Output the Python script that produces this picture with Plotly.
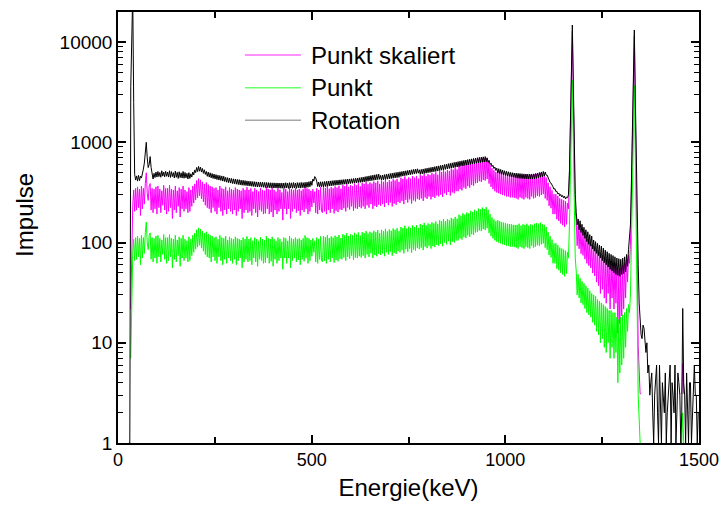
import numpy as np
import plotly.graph_objects as go

# Gamma spectrum (Co-60): channel grid starts at 28 keV, 2.5 keV per channel,
# rows below hold 20 channels (50 keV) each; starting energy in the comment.
E0 = 28
DE = 2.5

rotation = [
    1, 1, 3600, 30000, 30000, 2500, 480, 420, 462, 410, 468, 415, 460, 440, 480, 540, 620, 850, 1000, 700,          # 28
    560, 600, 720, 560, 470, 430, 490, 445, 505, 450, 512, 455, 500, 448, 520, 460, 505, 452, 515, 458,             # 78
    505, 450, 520, 446, 510, 455, 498, 440, 515, 448, 502, 436, 508, 445, 496, 440, 512, 438, 500, 442,             # 128
    490, 430, 498, 436, 485, 450, 505, 472, 530, 498, 560, 510, 575, 515, 565, 505, 548, 490, 532, 478,             # 178
    512, 458, 505, 450, 496, 442, 488, 436, 482, 430, 476, 425, 470, 420, 466, 416, 462, 410, 458, 406,             # 228
    448, 400, 444, 396, 440, 392, 436, 388, 432, 385, 430, 382, 426, 379, 424, 376, 420, 373, 418, 372,             # 278
    415, 370, 412, 368, 410, 366, 408, 364, 406, 362, 405, 360, 403, 359, 402, 358, 401, 357, 400, 356,             # 328
    398, 354, 397, 353, 396, 352, 395, 351, 394, 350, 394, 350, 393, 349, 393, 349, 392, 348, 392, 348,             # 378
    393, 348, 395, 350, 392, 347, 396, 351, 394, 348, 397, 350, 393, 347, 396, 352, 395, 349, 398, 352,             # 428
    396, 352, 399, 354, 401, 356, 405, 360, 410, 372, 430, 410, 455, 440, 410, 362, 402, 358, 404, 360,             # 478
    404, 360, 406, 362, 408, 364, 410, 366, 412, 368, 414, 370, 416, 372, 418, 374, 420, 376, 422, 378,             # 528
    423, 380, 425, 382, 427, 384, 429, 386, 431, 388, 433, 390, 435, 392, 437, 394, 440, 396, 443, 398,             # 578
    446, 400, 450, 403, 454, 406, 458, 409, 462, 412, 466, 415, 470, 418, 474, 421, 478, 424, 482, 427,             # 628
    468, 420, 472, 423, 476, 426, 480, 429, 484, 432, 488, 435, 492, 438, 496, 441, 500, 444, 504, 447,             # 678
    508, 456, 512, 460, 516, 464, 520, 468, 524, 472, 528, 476, 532, 480, 536, 484, 540, 488, 544, 492,             # 728
    532, 480, 537, 484, 542, 488, 547, 492, 552, 496, 557, 500, 562, 504, 567, 508, 572, 512, 577, 516,             # 778
    582, 522, 588, 527, 594, 532, 600, 537, 606, 542, 612, 547, 618, 552, 624, 557, 630, 562, 636, 567,             # 828
    642, 572, 648, 577, 654, 582, 660, 587, 666, 592, 672, 597, 678, 602, 684, 607, 690, 612, 696, 617,             # 878
    702, 622, 708, 627, 712, 632, 716, 636, 720, 640, 700, 630, 660, 600, 620, 572, 590, 548, 566, 524,             # 928
    552, 494, 545, 488, 536, 480, 528, 474, 520, 468, 514, 462, 508, 458, 502, 454, 498, 450, 494, 446,             # 978
    492, 440, 490, 438, 488, 436, 486, 434, 484, 432, 483, 431, 482, 430, 482, 430, 483, 431, 484, 432,             # 1028
    488, 436, 494, 442, 500, 448, 506, 454, 512, 460, 505, 470, 470, 436, 425, 398, 392, 365, 360, 340,             # 1078
    345, 322, 325, 305, 312, 292, 302, 285, 295, 278, 290, 272, 284, 280, 300, 520, 1500, 6000, 14800, 4000,        # 1128
    600, 300, 200, 150, 172, 134, 165, 126, 152, 118, 142, 110, 134, 102, 128, 96, 120, 92, 116, 86,                # 1178
    106, 82, 102, 78, 98, 74, 94, 70, 92, 66, 88, 63, 84, 60, 81, 57, 78, 54, 76, 52,                               # 1228
    74, 50, 72, 48, 70, 47, 69, 46, 68, 48, 70, 49, 72, 51, 76, 58, 85, 110, 150, 400,                              # 1278
    1800, 6000, 13200, 3000, 600, 150, 60, 25, 16, 12, 11, 15, 14, 9, 8, 10, 5, 6, 3, 4,                            # 1328
    5, 2, 1, 3, 4, 6, 2, 1, 6, 3, 1, 4, 3, 2, 5, 1, 2, 3, 4, 6,                                                     # 1378
    1, 4, 3, 2, 6, 1, 2, 5, 4, 3, 1, 2, 22, 4, 3, 1, 5, 2, 1, 4,                                                    # 1428
    4, 1, 2, 5, 6, 3, 3, 1, 2,                                                                                      # 1478
]

punkt = [
    0, 0, 7, 40, 75, 108, 66, 112, 68, 116, 72, 110, 60, 118, 70, 112, 78, 125, 160, 100,                           # 28
    85, 118, 125, 68, 112, 64, 110, 70, 116, 62, 118, 72, 110, 64, 106, 76, 120, 68, 112, 62,                       # 78
    112, 66, 120, 72, 110, 56, 108, 68, 118, 64, 106, 74, 114, 58, 110, 70, 118, 66, 108, 70,                       # 128
    104, 64, 114, 66, 108, 74, 118, 80, 124, 86, 134, 90, 140, 94, 136, 88, 130, 82, 124, 76,                       # 178
    128, 72, 122, 70, 118, 64, 116, 72, 112, 66, 114, 62, 108, 72, 118, 66, 112, 60, 110, 68,                       # 228
    116, 62, 106, 70, 114, 66, 110, 62, 108, 68, 114, 60, 110, 66, 108, 70, 106, 56, 112, 64,                       # 278
    108, 68, 115, 64, 108, 66, 112, 60, 104, 70, 112, 64, 108, 58, 104, 68, 113, 66, 108, 62,                       # 328
    106, 63, 116, 70, 110, 62, 108, 65, 114, 58, 108, 68, 104, 62, 112, 66, 108, 70, 102, 54,                       # 378
    112, 70, 110, 62, 104, 70, 116, 56, 110, 66, 108, 70, 112, 64, 108, 67, 110, 60, 106, 68,                       # 428
    110, 65, 118, 70, 112, 62, 110, 66, 106, 73, 110, 80, 104, 64, 112, 62, 108, 68, 115, 66,                       # 478
    64, 116, 66, 113, 62, 118, 68, 111, 64, 115, 70, 112, 63, 117, 67, 114, 65, 119, 69, 111,                       # 528
    68, 121, 71, 118, 66, 124, 72, 116, 69, 121, 74, 118, 67, 125, 71, 120, 70, 126, 73, 117,                       # 578
    71, 127, 74, 124, 70, 130, 76, 123, 72, 128, 78, 125, 70, 131, 75, 127, 73, 133, 77, 124,                       # 628
    75, 134, 78, 130, 73, 137, 80, 129, 76, 135, 81, 131, 74, 138, 79, 134, 77, 139, 82, 130,                       # 678
    80, 143, 84, 139, 78, 147, 86, 138, 81, 144, 87, 140, 79, 148, 85, 143, 83, 149, 88, 140,                       # 728
    86, 153, 89, 149, 84, 157, 91, 148, 88, 155, 93, 152, 87, 159, 92, 155, 90, 162, 95, 153,                       # 778
    93, 167, 97, 163, 92, 172, 100, 164, 96, 171, 103, 167, 95, 176, 102, 172, 100, 180, 105, 173,                  # 828
    105, 190, 110, 185, 107, 196, 114, 190, 111, 199, 118, 195, 114, 207, 121, 202, 119, 212, 126, 205,             # 878
    127, 218, 132, 214, 130, 223, 136, 216, 134, 225, 139, 212, 125, 192, 116, 178, 110, 170, 105, 163,             # 928
    102, 167, 100, 163, 98, 160, 96, 158, 95, 156, 93, 154, 93, 153, 91, 152, 91, 150, 90, 149,                     # 978
    89, 150, 87, 154, 91, 147, 89, 152, 87, 150, 91, 154, 89, 147, 87, 152, 93, 150, 89, 154,                       # 1028
    91, 156, 94, 154, 93, 158, 96, 152, 98, 150, 89, 143, 85, 127, 75, 116, 71, 107, 62, 98,                        # 1078
    62, 98, 55, 94, 53, 89, 50, 87, 48, 85, 46, 83, 49, 80, 70, 150, 500, 1800, 4150, 1000,                         # 1128
    150, 70, 52, 30, 48, 28, 44, 25, 41, 24, 39, 22, 37, 20, 35, 19, 33, 18, 31, 16,                                # 1178
    30, 15, 29, 13, 27, 12, 26, 10, 25, 11, 24, 9, 23, 8, 22, 10, 21, 7, 21, 9,                                     # 1228
    20, 7, 20, 8, 18, 4, 17, 5, 18, 6, 19, 7, 20, 9, 22, 13, 24, 20, 30, 120,                                       # 1278
    500, 1500, 3700, 800, 200, 20, 3, 2, 1, 1, 0, 0, 0, 0, 0, 0, 0, 0, 0, 0,                                        # 1328
    0, 0, 0, 0, 0, 0, 0, 0, 0, 0, 0, 0, 0, 0, 0, 0, 0, 0, 0, 0,                                                     # 1378
    0, 0, 0, 0, 0, 0, 0, 0, 0, 0, 1, 1, 2, 1, 0, 0, 0, 0, 0, 0,                                                     # 1428
    0, 0, 0, 0, 0, 0, 0, 0, 0,                                                                                      # 1478
]

# "Punkt skaliert" is the Punkt spectrum multiplied by this factor
SCALE = 3.1

series_names = ["Punkt skaliert", "Punkt", "Rotation"]
series_colors = ["#ff00ff", "#00ff00", "#000000"]
key_colors = ["#ff6cff", "#6cff6c", "#a8a8a8"]


def channel_energy(values):
    return E0 + DE * np.arange(len(values))


def positive(values, factor=1.0):
    # zero counts cannot be shown on a log axis
    return [v * factor if v > 0 else None for v in values]


series_values = [positive(punkt, SCALE), positive(punkt), positive(rotation)]
series_x = [channel_energy(punkt), channel_energy(punkt), channel_energy(rotation)]

fig = go.Figure()
for name, color, xs, ys in zip(series_names, series_colors, series_x, series_values):
    fig.add_trace(go.Scatter(x=xs, y=ys, mode="lines", name=name,
                             showlegend=False, line=dict(color=color, width=1)))

font = "Liberation Sans, Arial, sans-serif"

# key: short line sample followed by the series name, one row per series
key_top = 0.900
key_step = 0.0755
shapes = []
annotations = []
for i, (name, kc) in enumerate(zip(series_names, key_colors)):
    yk = key_top - i * key_step
    shapes.append(dict(type="line", xref="paper", yref="paper",
                       x0=0.2186, x1=0.3150, y0=yk, y1=yk,
                       line=dict(color=kc, width=1.5)))
    annotations.append(dict(text=name, showarrow=False, xref="paper", yref="paper",
                            x=0.329, y=yk, xanchor="left", yanchor="middle",
                            font=dict(size=24, family=font, color="black")))

annotations.append(dict(text="Impulse", textangle=-90, showarrow=False,
                        xref="paper", yref="paper", x=-0.162, y=0.529,
                        xanchor="center", yanchor="middle",
                        font=dict(size=24, family=font, color="black")))

fig.update_layout(
    template="none",
    width=720, height=511,
    margin=dict(l=118, r=21, t=12, b=68),
    paper_bgcolor="white", plot_bgcolor="white",
    font=dict(family=font, size=19, color="black"),
    showlegend=False,
    shapes=shapes,
    annotations=annotations,
)
fig.update_xaxes(
    range=[0, 1500], dtick=500, tick0=0,
    showline=True, linecolor="black", linewidth=1.5, mirror="ticks",
    ticks="inside", ticklen=8, tickwidth=1.5, tickcolor="black",
    minor=dict(dtick=250, ticks="inside", ticklen=6, tickwidth=1.5, tickcolor="black"),
    showgrid=False, zeroline=False, automargin=False,
    tickfont=dict(size=18), ticklabeloverflow="allow",
    title=dict(text="Energie(keV)", font=dict(size=24), standoff=10),
)
fig.update_yaxes(
    type="log", range=[0, 4.3],
    tickvals=[1, 10, 100, 1000, 10000],
    ticktext=["1", "10", "100", "1000", "10000"],
    showline=True, linecolor="black", linewidth=1.5, mirror="ticks",
    ticks="inside", ticklen=8, tickwidth=1.5, tickcolor="black",
    minor=dict(dtick="D1", ticks="inside", ticklen=5, tickwidth=1, tickcolor="black"),
    showgrid=False, zeroline=False, automargin=False,
    tickfont=dict(size=19),
)

fig.write_html("out.html")
